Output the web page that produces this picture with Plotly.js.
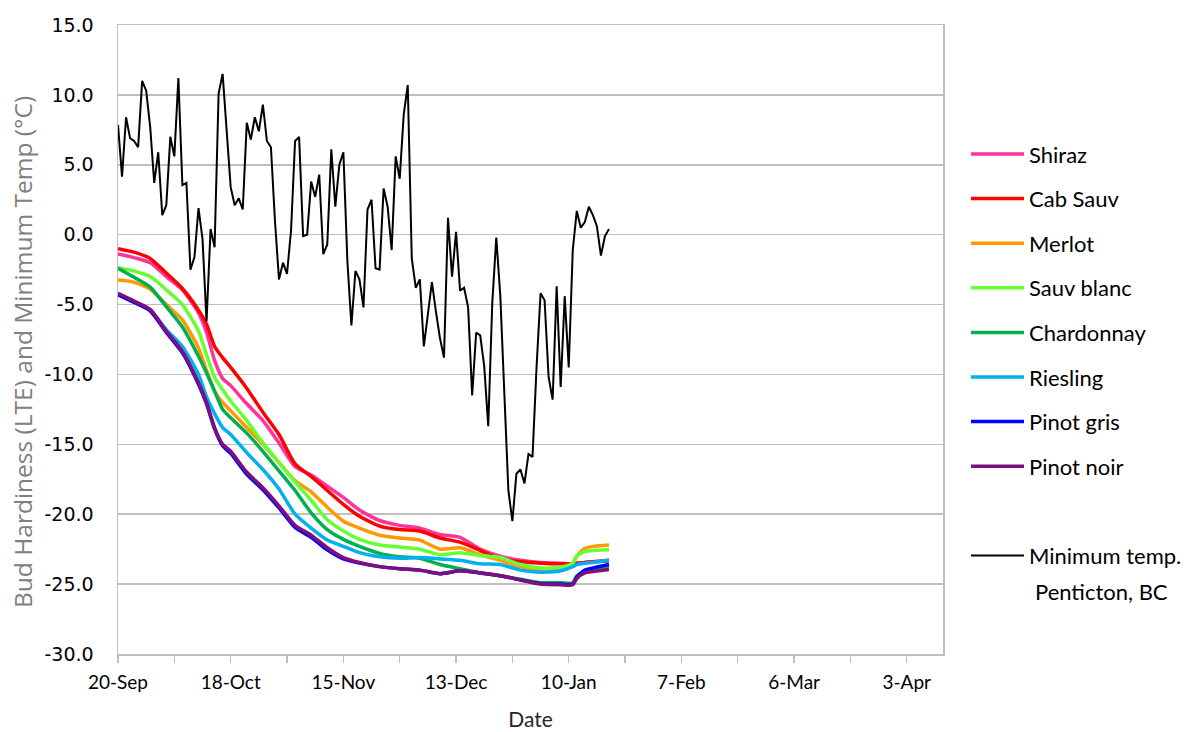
<!DOCTYPE html>
<html>
<head>
<meta charset="utf-8">
<script src="https://cdn.plot.ly/plotly-3.0.1.min.js"></script>
<style>html,body{margin:0;padding:0;background:#fff;}#chart{width:1187px;height:732px;}</style>
</head>
<body>
<div id="chart"></div>
<script>
// ---- DATA ----
const seasonStart = [2015, 8, 20]; // 20-Sep (season spanning a leap February)

// Daily minimum temperature, Penticton BC, starting 20-Sep (one value per day)
const minTemp = [
  7.85, 4.15, 8.4, 6.9, 6.7, 6.25, 11.0, 10.3, 7.7, 3.7,
  5.9, 1.4, 2.1, 7.0, 5.6, 11.2, 3.55, 3.7, -2.5, -1.6,
  1.9, -0.3, -6.2, 0.4, -0.9, 10.1, 11.5, 7.3, 3.4, 2.1,
  2.6, 1.8, 8.0, 6.8, 8.4, 7.4, 9.3, 6.7, 6.25, 1.0,
  -3.2, -2.0, -2.8, 0.3, 6.7, 7.0, -0.1, 0.0, 3.8, 2.7,
  4.3, -1.4, -0.7, 6.1, 2.0, 5.0, 5.9, -1.9, -6.5, -2.6,
  -3.2, -5.2, 1.8, 2.5, -2.4, -2.5, 3.3, 2.0, -1.1, 5.6,
  4.0, 8.6, 10.7, -1.7, -3.8, -3.2, -8.0, -5.7, -3.4, -5.5,
  -7.4, -8.8, 1.2, -3.0, 0.2, -4.0, -3.8, -5.2, -11.5, -7.0,
  -7.2, -9.4, -13.7, -4.9, -0.2, -4.4, -11.3, -18.3, -20.5, -17.1,
  -16.8, -17.8, -15.7, -15.9, -9.5, -4.2, -4.7, -10.2, -11.8, -3.7,
  -10.9, -4.4, -9.5, -1.1, 1.7, 0.5, 0.9, 2.0, 1.4, 0.6,
  -1.5, -0.1, 0.4
];

// Bud hardiness (LTE) sample days (days after 20-Sep)
const lteDays = [0, 4, 8, 12, 16, 20, 22, 24, 26, 28, 32, 36, 40, 44, 48, 52, 56, 60, 65, 70, 75, 80, 85, 90, 95, 100, 105, 110, 113, 114, 116, 118, 122];

const shiraz     = [-1.38, -1.64, -2.0, -3.0, -3.95, -5.6, -7.0, -9.0, -10.3, -10.8, -12.1, -13.3, -14.9, -16.6, -17.2, -18.0, -18.8, -19.7, -20.45, -20.8, -21.0, -21.45, -21.65, -22.5, -23.0, -23.3, -23.45, -23.5, -23.55, -23.5, -23.45, -23.4, -23.3];
const cabSauv    = [-1.0, -1.25, -1.7, -2.75, -3.85, -5.4, -6.4, -8.0, -8.8, -9.5, -11.0, -12.7, -14.3, -16.4, -17.3, -18.3, -19.3, -20.15, -20.85, -21.1, -21.2, -21.7, -22.0, -22.6, -23.2, -23.4, -23.5, -23.55, -23.55, -23.5, -23.45, -23.4, -23.35];
const merlot     = [-3.25, -3.4, -3.9, -5.0, -6.1, -8.1, -9.7, -11.2, -12.0, -12.6, -13.8, -15.0, -16.3, -17.6, -18.4, -19.5, -20.5, -21.0, -21.5, -21.7, -21.85, -22.5, -22.4, -22.9, -23.3, -23.75, -24.0, -23.95, -23.5, -23.0, -22.45, -22.3, -22.2];
const sauvBlanc  = [-2.36, -2.6, -3.0, -3.95, -5.0, -6.9, -8.6, -10.2, -11.1, -11.9, -13.3, -14.9, -16.3, -17.7, -19.0, -20.4, -21.2, -21.8, -22.2, -22.35, -22.5, -22.9, -22.75, -22.95, -23.1, -23.6, -23.85, -23.8, -23.5, -23.0, -22.65, -22.6, -22.55];
const chardonnay = [-2.4, -3.05, -3.75, -5.15, -6.6, -8.7, -9.9, -11.2, -12.5, -13.1, -14.2, -15.5, -16.9, -18.3, -19.9, -21.1, -21.8, -22.3, -22.8, -23.05, -23.15, -23.6, -23.9, -24.2, -24.4, -24.65, -24.9, -24.9, -24.9, -24.4, -24.1, -23.9, -23.75];
const riesling   = [-4.25, -4.8, -5.4, -6.8, -8.0, -10.0, -11.6, -12.8, -13.8, -14.3, -15.6, -16.8, -18.2, -20.0, -21.0, -21.85, -22.3, -22.75, -23.05, -23.15, -23.1, -23.2, -23.3, -23.55, -23.6, -24.0, -24.15, -24.05, -23.75, -23.6, -23.5, -23.45, -23.3];
const pinotGris  = [-4.3, -4.85, -5.45, -7.0, -8.45, -10.7, -12.1, -13.9, -15.1, -15.65, -17.15, -18.25, -19.55, -20.95, -21.65, -22.55, -23.2, -23.5, -23.75, -23.9, -24.0, -24.25, -24.05, -24.2, -24.4, -24.7, -24.95, -25.0, -25.0, -24.5, -24.0, -23.85, -23.6];
const pinotNoir  = [-4.2, -4.75, -5.35, -6.9, -8.35, -10.6, -12.0, -13.8, -15.0, -15.5, -17.0, -18.1, -19.4, -20.8, -21.5, -22.4, -23.1, -23.45, -23.75, -23.9, -24.0, -24.25, -24.05, -24.2, -24.4, -24.7, -25.0, -25.05, -25.05, -24.6, -24.2, -24.1, -23.95];

const seriesNames  = ['Shiraz', 'Cab Sauv', 'Merlot', 'Sauv blanc', 'Chardonnay', 'Riesling', 'Pinot gris', 'Pinot noir'];
const seriesValues = [shiraz, cabSauv, merlot, sauvBlanc, chardonnay, riesling, pinotGris, pinotNoir];
const seriesColors = ['#ff3399', '#ff0000', '#ff9900', '#66ff33', '#00b050', '#00b0f0', '#0000ff', '#7f0f7f'];

const tempName = 'Minimum temp.';
const tempNameLine2 = 'Penticton, BC';
const yTitle = 'Bud Hardiness (LTE) and Minimum Temp (°C)';
const xTitle = 'Date';
const tickDays = [0, 14, 28, 42, 56, 70, 84, 98, 112, 126, 140, 154, 168, 182, 196];
const tickLabels = ['20-Sep', '', '18-Oct', '', '15-Nov', '', '13-Dec', '', '10-Jan', '', '7-Feb', '', '6-Mar', '', '3-Apr'];
const axisEndDay = 205;
const yTickVals = [15, 10, 5, 0, -5, -10, -15, -20, -25, -30];
const yTickLabels = ['15.0', '10.0', '5.0', '0.0', '-5.0', '-10.0', '-15.0', '-20.0', '-25.0', '-30.0'];

// ---- BUILD ----
function dayToDate(d) {
  const t = Date.UTC(seasonStart[0], seasonStart[1], seasonStart[2]) + d * 86400000;
  return new Date(t).toISOString().slice(0, 10);
}
const lteDates = lteDays.map(dayToDate);
const tempDates = minTemp.map((v, i) => dayToDate(i));

const traces = seriesNames.map((n, i) => ({
  x: lteDates, y: seriesValues[i], name: n, type: 'scatter', mode: 'lines',
  line: {color: seriesColors[i], width: 3.5, shape: 'spline', smoothing: 0.6},
  legendgroup: 'g' + i
}));
traces.push({x: [null], y: [null], name: ' ', type: 'scatter', mode: 'lines',
  line: {color: 'rgba(0,0,0,0)', width: 1}, legendgroup: 'blank', hoverinfo: 'skip'});
traces.push({x: tempDates, y: minTemp, name: tempName, type: 'scatter', mode: 'lines',
  line: {color: '#000000', width: 2}, legendgroup: 'temp'});

// plot area in pixels: left 118, right 943, top 25, bottom 654
const px = x => (x - 118) / 825;
const py = y => (654 - y) / 629;

const layout = {
  width: 1187, height: 732,
  margin: {l: 118, r: 244, t: 25, b: 78, autoexpand: false},
  paper_bgcolor: '#ffffff', plot_bgcolor: '#ffffff',
  showlegend: true,
  legend: {
    x: px(966), xanchor: 'left', y: 0.828, yanchor: 'top',
    font: {family: 'Lato, sans-serif', size: 22, color: '#000000'},
    itemwidth: 53, tracegroupgap: 13, bgcolor: 'rgba(0,0,0,0)'
  },
  annotations: [
    {text: tempNameLine2, xref: 'paper', yref: 'paper', x: px(1033), y: py(591),
     xanchor: 'left', yanchor: 'middle', showarrow: false,
     font: {family: 'Lato, sans-serif', size: 22, color: '#000000'}},
    {text: yTitle, xref: 'paper', yref: 'paper', x: px(22), y: py(352), textangle: -90,
     xanchor: 'center', yanchor: 'middle', showarrow: false,
     font: {family: 'Open Sans, sans-serif', size: 24.5, color: '#808080'}}
  ],
  xaxis: {
    type: 'date',
    range: [dayToDate(0), dayToDate(axisEndDay)],
    tickvals: tickDays.map(dayToDate), ticktext: tickLabels,
    ticks: 'outside', ticklen: 7, tickcolor: '#bfbfbf', tickwidth: 1.3,
    ticklabelstandoff: 4,
    showgrid: false, zeroline: false,
    showline: true, linecolor: '#bfbfbf', linewidth: 1.5, mirror: true,
    tickfont: {family: 'Lato, sans-serif', size: 19, color: '#000000'},
    title: {text: xTitle, font: {family: 'Lato, sans-serif', size: 21, color: '#262626'}, standoff: 20}
  },
  yaxis: {
    range: [-30, 15], tickvals: yTickVals, ticktext: yTickLabels,
    showgrid: true, gridcolor: '#bfbfbf', gridwidth: 1.5,
    zeroline: false,
    showline: true, linecolor: '#bfbfbf', linewidth: 1.5, mirror: true,
    ticks: '', ticklabelstandoff: 19,
    tickfont: {family: 'DejaVu Sans, sans-serif', size: 19, color: '#000000'}
  }
};

Plotly.newPlot('chart', traces, layout, {displayModeBar: false, staticPlot: true});
</script>
</body>
</html>
